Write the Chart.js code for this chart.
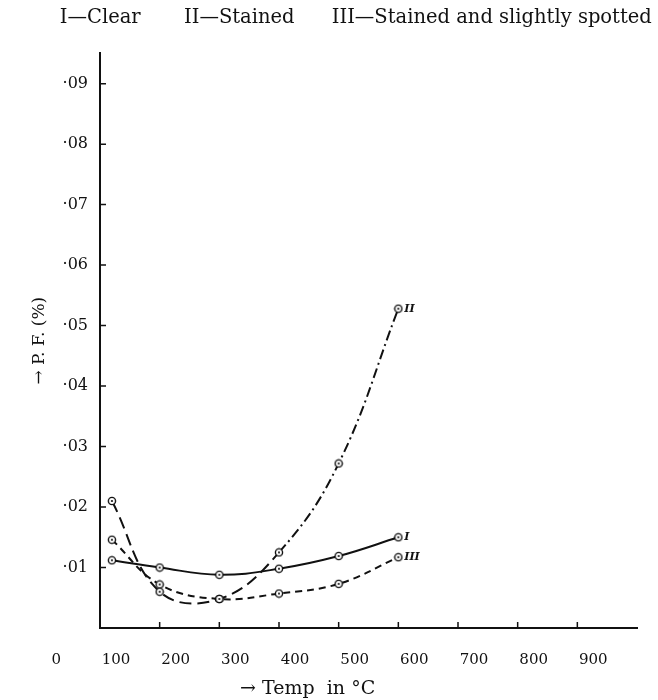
<!DOCTYPE html>
<html>
<head>
<meta charset="utf-8">
<script src="https://cdn.jsdelivr.net/npm/chart.js@4.4.1/dist/chart.umd.min.js"></script>
<style>
  body { margin: 0; background: #fff; }
</style>
</head>
<body>
<canvas id="pf-chart" width="658" height="700"></canvas>
<script>
// temperature (deg C) of each measured point
const temps = [120, 200, 300, 400, 500, 600];
// power factor readings, one list per sample
const clearPF = [0.0112, 0.0100, 0.0088, 0.0098, 0.0119, 0.0150];
const stainedPF = [0.0210, 0.0060, 0.0048, 0.0125, 0.0272, 0.0528];
const spottedPF = [0.0146, 0.0072, 0.0048, 0.0057, 0.0073, 0.0117];
const seriesNames = ['I', 'II', 'III'];
const headerText = 'I\u2014Clear       II\u2014Stained      III\u2014Stained and slightly spotted ';
const xTickValues = [0, 100, 200, 300, 400, 500, 600, 700, 800, 900];
const yTickValues = [0.01, 0.02, 0.03, 0.04, 0.05, 0.06, 0.07, 0.08, 0.09];

const serif = "'DejaVu Serif', 'Liberation Serif', serif";
const ink = '#111';

function toPoints(values) {
    return temps.map((t, i) => ({x: t, y: values[i]}));
}

// small ringed marker with a dot in the middle, like the printed plot
function ringMarker() {
    const c = document.createElement('canvas');
    c.width = 10;
    c.height = 10;
    const g = c.getContext('2d');
    g.fillStyle = '#fff';
    g.strokeStyle = ink;
    g.lineWidth = 1.4;
    g.beginPath();
    g.arc(5, 5, 3.6, 0, Math.PI * 2);
    g.fill();
    g.stroke();
    g.fillStyle = ink;
    g.beginPath();
    g.arc(5, 5, 1.1, 0, Math.PI * 2);
    g.fill();
    return c;
}
const marker = ringMarker();

// ticks drawn inward, curve end labels, x axis title
const annotations = {
    id: 'pfAnnotations',
    afterDraw(chart) {
        const {ctx, chartArea, scales} = chart;
        const x = scales.x, y = scales.y;
        ctx.save();
        ctx.strokeStyle = ink;
        ctx.lineWidth = 1.5;
        ctx.beginPath();
        xTickValues.filter(v => v > 100).forEach(v => {
            const px = x.getPixelForValue(v);
            ctx.moveTo(px, chartArea.bottom);
            ctx.lineTo(px, chartArea.bottom - 6);
        });
        yTickValues.forEach(v => {
            const py = y.getPixelForValue(v);
            ctx.moveTo(chartArea.left, py);
            ctx.lineTo(chartArea.left + 6, py);
        });
        ctx.stroke();

        ctx.fillStyle = ink;
        ctx.textBaseline = 'middle';
        ctx.font = 'italic bold 11px ' + serif;
        chart.data.datasets.forEach((ds, i) => {
            const pts = chart.getDatasetMeta(i).data;
            const last = pts[pts.length - 1];
            ctx.fillText(seriesNames[i], last.x + 6, last.y);
        });

        ctx.font = '19px ' + serif;
        ctx.textAlign = 'center';
        ctx.fillText('\u2192 Temp  in \u00B0C', x.getPixelForValue(448), x.bottom - 11);
        ctx.restore();
    }
};

const lineStyle = {
    pointStyle: marker,
    pointRadius: 4,
    borderColor: ink,
    borderWidth: 2,
    tension: 0.4,
    fill: false,
    yAxisID: 'y'
};

new Chart(document.getElementById('pf-chart'), {
    type: 'line',
    data: {
        datasets: [
            Object.assign({label: 'I', data: toPoints(clearPF)}, lineStyle),
            Object.assign({label: 'II', data: toPoints(stainedPF),
                segment: {borderDash: c => c.p0DataIndex >= 3 ? [10, 4, 2, 4] : [12, 6]}}, lineStyle),
            Object.assign({label: 'III', data: toPoints(spottedPF), borderDash: [7, 5]}, lineStyle)
        ]
    },
    options: {
        responsive: false,
        devicePixelRatio: 1,
        animation: false,
        layout: {padding: 0},
        plugins: {
            legend: {display: false},
            tooltip: {enabled: false},
            title: {
                display: true,
                text: headerText,
                align: 'end',
                color: ink,
                font: {family: serif, size: 19.5, weight: 'normal'},
                padding: {top: 6, bottom: 24}
            }
        },
        scales: {
            x: {
                type: 'linear',
                min: 100,
                max: 1000,
                afterBuildTicks: s => { s.ticks = xTickValues.map(v => ({value: v})); },
                afterFit: s => { s.height = 72; },
                grid: {display: false},
                border: {color: ink, width: 2},
                ticks: {
                    autoSkip: false,
                    maxRotation: 0,
                    labelOffset: 16,
                    padding: 15,
                    color: ink,
                    font: {family: serif, size: 15},
                    callback: v => String(v)
                }
            },
            y: {
                type: 'linear',
                min: 0,
                max: 0.095,
                afterBuildTicks: s => { s.ticks = yTickValues.map(v => ({value: v})); },
                afterFit: s => { s.width = 100; },
                grid: {display: false},
                border: {color: ink, width: 2},
                ticks: {
                    padding: 4,
                    color: ink,
                    font: {family: serif, size: 16},
                    callback: v => '\u00B7' + v.toFixed(2).slice(2)
                },
                title: {
                    display: true,
                    text: '\u2192 P. F. (%)',
                    color: ink,
                    font: {family: serif, size: 17},
                    padding: {top: 29, bottom: 0}
                }
            },
            yR: {
                type: 'linear',
                position: 'right',
                grid: {display: false},
                border: {display: false},
                ticks: {display: false},
                afterFit: s => { s.width = 21; }
            }
        }
    },
    plugins: [annotations]
});
</script>
</body>
</html>
